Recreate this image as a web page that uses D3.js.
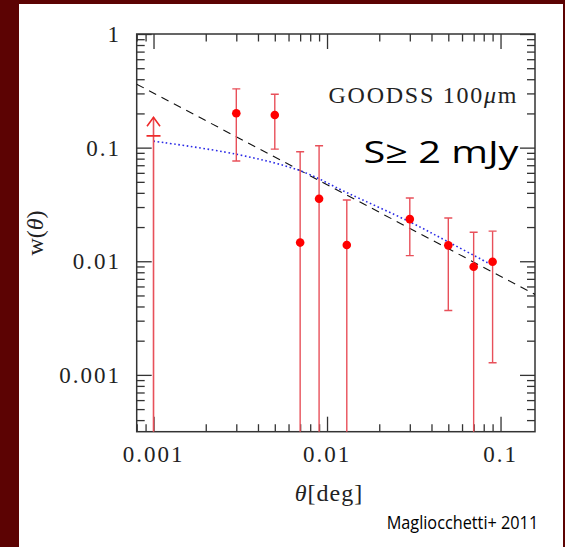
<!DOCTYPE html>
<html>
<head>
<meta charset="utf-8">
<script src="https://cdn.jsdelivr.net/npm/d3@7"></script>
<style>
  body { margin: 0; background: #5c0303; }
  svg { display: block; }
</style>
</head>
<body>
<div id="chart"></div>
<script>
// measured points: angle (deg), w(theta), upper and lower error-bar ends
const theta = [0.003, 0.005, 0.007, 0.009, 0.013, 0.03, 0.05, 0.07, 0.09];
const w = [0.201, 0.194, 0.0146, 0.0355, 0.0139, 0.0235, 0.0138, 0.00895, 0.0099];
const wHigh = [0.329, 0.295, 0.092, 0.104, 0.0346, 0.036, 0.024, 0.018, 0.0184];
const wLow = [0.0763, 0.097, null, null, null, 0.0112, 0.00369, null, 0.00128]; // null = runs off the bottom

// lower limit at the smallest angle
const limitTheta = [0.001];
const limitW = [0.127];
const limitTip = [0.185];

// power-law fit (dashed) and model (dotted)
const fitTheta = [0.0008, 0.158];
const fitW = [0.362, 0.0051];
const modelTheta = [0.001, 0.003, 0.007, 0.013, 0.03, 0.05, 0.09];
const modelW = [0.114, 0.0875, 0.0626, 0.0402, 0.0222, 0.0148, 0.0092];

const xMajor = [0.001, 0.01, 0.1];
const xLabels = ["0.001", "0.01", "0.1"];
const yMajor = [1, 0.1, 0.01, 0.001];
const yLabels = ["1", "0.1", "0.01", "0.001"];

const width = 565;
const height = 547;
const plot = { left: 136.7, right: 535, top: 34, bottom: 431.7 };

const svg = d3.select("#chart")
  .append("svg")
  .attr("width", width)
  .attr("height", height);

svg.append("rect").attr("width", width).attr("height", height).attr("fill", "#5c0303");
svg.append("rect").attr("x", 19).attr("y", 4).attr("width", 544).attr("height", height - 4).attr("fill", "#fff");

const x = d3.scaleLog().domain([0.0008, 0.158]).range([plot.left, plot.right]);
const y = d3.scaleLog().domain([Math.pow(10, -3.5), 1]).range([plot.bottom, plot.top]);

const xMinor = x.ticks().filter((d) => !xMajor.some((m) => Math.abs(m - d) / m < 1e-6));
const yMinor = y.ticks().filter((d) => !yMajor.some((m) => Math.abs(m - d) / m < 1e-6));

const axisColor = "#333";
const serif = "'Liberation Serif', 'DejaVu Serif', serif";
const comic = "'Open Sans', 'Noto Sans', sans-serif";

function addAxis(axis, tx, ty) {
  const g = svg.append("g").attr("transform", `translate(${tx},${ty})`).call(axis);
  g.select(".domain").remove();
  g.selectAll("line").attr("stroke", axisColor).attr("stroke-width", 1.3);
  return g;
}

// inward ticks on all four sides
[[xMajor, 15], [xMinor, 7.5]].forEach(([vals, len]) => {
  addAxis(d3.axisBottom(x).tickValues(vals).tickSize(-len).tickFormat(""), 0, plot.bottom);
  addAxis(d3.axisTop(x).tickValues(vals).tickSize(-len).tickFormat(""), 0, plot.top);
});
[[yMajor, 15], [yMinor, 8]].forEach(([vals, len]) => {
  addAxis(d3.axisLeft(y).tickValues(vals).tickSize(-len).tickFormat(""), plot.left, 0);
  addAxis(d3.axisRight(y).tickValues(vals).tickSize(-len).tickFormat(""), plot.right, 0);
});

svg.append("rect")
  .attr("x", plot.left)
  .attr("y", plot.top)
  .attr("width", plot.right - plot.left)
  .attr("height", plot.bottom - plot.top)
  .attr("fill", "none")
  .attr("stroke", axisColor)
  .attr("stroke-width", 1.5);

// tick labels
svg.append("g")
  .selectAll("text")
  .data(xMajor)
  .join("text")
  .attr("x", (d) => x(d))
  .attr("y", 461.5)
  .attr("text-anchor", "middle")
  .attr("font-family", serif)
  .attr("font-size", 23)
  .attr("letter-spacing", 2)
  .attr("fill", "#222")
  .text((d, i) => xLabels[i]);

svg.append("g")
  .selectAll("text")
  .data(yMajor)
  .join("text")
  .attr("x", 121)
  .attr("y", (d) => y(d) + 8)
  .attr("text-anchor", "end")
  .attr("font-family", serif)
  .attr("font-size", 23)
  .attr("letter-spacing", 2)
  .attr("fill", "#222")
  .text((d, i) => yLabels[i]);

// axis titles
const yTitle = svg.append("text")
  .attr("transform", "translate(43,233) rotate(-90)")
  .attr("text-anchor", "middle")
  .attr("font-family", serif)
  .attr("font-size", 24)
  .attr("fill", "#222");
yTitle.append("tspan").text("w(");
yTitle.append("tspan").attr("font-style", "italic").text("θ");
yTitle.append("tspan").text(")");

const xTitle = svg.append("text")
  .attr("x", 329)
  .attr("y", 501)
  .attr("text-anchor", "middle")
  .attr("font-family", serif)
  .attr("font-size", 24)
  .attr("letter-spacing", 1)
  .attr("fill", "#222");
xTitle.append("tspan").attr("font-style", "italic").text("θ");
xTitle.append("tspan").text("[deg]");

svg.append("clipPath").attr("id", "plot-clip")
  .append("rect")
  .attr("x", plot.left)
  .attr("y", plot.top)
  .attr("width", plot.right - plot.left)
  .attr("height", plot.bottom - plot.top);

const inner = svg.append("g").attr("clip-path", "url(#plot-clip)");

const line = d3.line().x((d) => x(d[0])).y((d) => y(d[1]));

inner.append("path")
  .datum(d3.zip(fitTheta, fitW))
  .attr("fill", "none")
  .attr("stroke", "#111")
  .attr("stroke-width", 1.1)
  .attr("stroke-dasharray", "8 6")
  .attr("d", line);

inner.append("path")
  .datum(d3.zip(modelTheta, modelW))
  .attr("fill", "none")
  .attr("stroke", "#2a2ae6")
  .attr("stroke-width", 1.6)
  .attr("stroke-dasharray", "1.6 2.6")
  .attr("d", line.curve(d3.curveCatmullRom.alpha(0.5)));

const barColor = "#e8505a";
const pointColor = "#ff0000";
const points = d3.zip(theta, w, wHigh, wLow);

// error bars
inner.append("g")
  .selectAll("line")
  .data(points)
  .join("line")
  .attr("x1", (d) => x(d[0]))
  .attr("x2", (d) => x(d[0]))
  .attr("y1", (d) => y(d[2]))
  .attr("y2", (d) => (d[3] === null ? plot.bottom + 2 : y(d[3])))
  .attr("stroke", barColor)
  .attr("stroke-width", 1.4);

inner.append("g")
  .selectAll("line")
  .data(points)
  .join("line")
  .attr("x1", (d) => x(d[0]) - 4)
  .attr("x2", (d) => x(d[0]) + 4)
  .attr("y1", (d) => y(d[2]))
  .attr("y2", (d) => y(d[2]))
  .attr("stroke", barColor)
  .attr("stroke-width", 1.4);

inner.append("g")
  .selectAll("line")
  .data(points.filter((d) => d[3] !== null))
  .join("line")
  .attr("x1", (d) => x(d[0]) - 4)
  .attr("x2", (d) => x(d[0]) + 4)
  .attr("y1", (d) => y(d[3]))
  .attr("y2", (d) => y(d[3]))
  .attr("stroke", barColor)
  .attr("stroke-width", 1.4);

inner.append("g")
  .selectAll("circle")
  .data(points)
  .join("circle")
  .attr("cx", (d) => x(d[0]))
  .attr("cy", (d) => y(d[1]))
  .attr("r", 4.3)
  .attr("fill", pointColor);

// lower limit with arrow
const limits = d3.zip(limitTheta, limitW, limitTip);
const limitG = inner.append("g")
  .attr("stroke", "#ee2a2a")
  .attr("stroke-width", 1.6)
  .attr("fill", "none");

limitG.selectAll("line.stem")
  .data(limits)
  .join("line")
  .attr("class", "stem")
  .attr("x1", (d) => x(d[0]))
  .attr("x2", (d) => x(d[0]))
  .attr("y1", plot.bottom + 2)
  .attr("y2", (d) => y(d[2]))
  .attr("stroke", barColor);

limitG.selectAll("line.cap")
  .data(limits)
  .join("line")
  .attr("class", "cap")
  .attr("x1", (d) => x(d[0]) - 7)
  .attr("x2", (d) => x(d[0]) + 7)
  .attr("y1", (d) => y(d[1]))
  .attr("y2", (d) => y(d[1]));

limitG.selectAll("path")
  .data(limits)
  .join("path")
  .attr("d", (d) => {
    const cx = x(d[0]);
    const ty = y(d[2]);
    return `M${cx - 6.5},${ty + 9}L${cx},${ty}L${cx + 6.5},${ty + 9}`;
  });

// annotations
const goods = svg.append("text")
  .attr("x", 328.5)
  .attr("y", 102.7)
  .attr("font-family", serif)
  .attr("font-size", 24)
  .attr("fill", "#222")
  .attr("textLength", 188)
  .attr("lengthAdjust", "spacing");
goods.append("tspan").text("GOODSS  100");
goods.append("tspan").attr("font-style", "italic").text("μ");
goods.append("tspan").text("m");

svg.append("text")
  .attr("x", 363.5)
  .attr("y", 163.3)
  .attr("font-family", comic)
  .attr("font-size", 31)
  .attr("font-weight", 500)
  .attr("fill", "#000")
  .attr("textLength", 155)
  .attr("lengthAdjust", "spacingAndGlyphs")
  .text("S≥ 2 mJy");

svg.append("text")
  .attr("x", 386.7)
  .attr("y", 529)
  .attr("font-family", comic)
  .attr("font-size", 18)
  .attr("fill", "#000")
  .attr("textLength", 151.5)
  .attr("lengthAdjust", "spacingAndGlyphs")
  .text("Magliocchetti+ 2011");
</script>
</body>
</html>
